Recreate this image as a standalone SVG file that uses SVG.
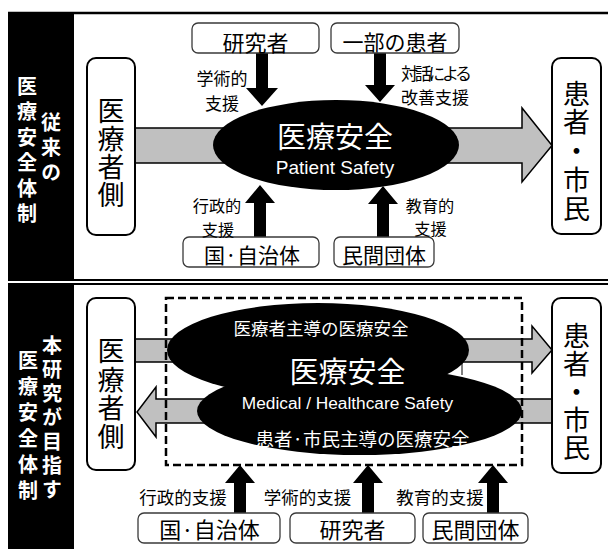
<svg xmlns="http://www.w3.org/2000/svg" width="608" height="549" viewBox="0 0 608 549">
<style>
  text { font-family: "Noto Sans CJK JP", "Noto Sans", sans-serif; }
  .lat { font-family: "Liberation Sans", Arial, sans-serif; }
  .box { fill: #fff; stroke: #3a3a3a; stroke-width: 1.3; }
  .side { fill: #fff; stroke: #000; stroke-width: 2; }
  .band { fill: #c0c0c0; stroke: #000; stroke-width: 1.5; }
  .arr { fill: #000; }
  .ell { fill: #000; }
  .wt { fill: #fff; }
  .c { text-anchor: middle; dominant-baseline: central; }
  .vert { writing-mode: vertical-rl; text-orientation: upright; }
  .bar { fill: #fff; font-size: 20px; font-weight: bold; }
  .vt { font-size: 27px; }
  .lbl { font-size: 17px; }
  .lbl3 { font-size: 16.2px; }
  .lbl2 { font-size: 17.5px; }
</style>

<g id="frame">
  <rect x="8" y="12" width="66" height="269" fill="#000"/>
  <rect x="8" y="283" width="66" height="266" fill="#000"/>
  <line x1="8" y1="13" x2="608" y2="13" stroke="#000" stroke-width="2.3"/>
  <line x1="8" y1="280" x2="608" y2="280" stroke="#000" stroke-width="2"/>
  <line x1="8" y1="284" x2="608" y2="284" stroke="#000" stroke-width="2"/>
</g>

<g id="bar-top">
  <text class="vert bar" x="27" y="76">医</text>
  <text class="vert bar" x="27" y="101.5">療</text>
  <text class="vert bar" x="27" y="127">安</text>
  <text class="vert bar" x="27" y="152.5">全</text>
  <text class="vert bar" x="27" y="178">体</text>
  <text class="vert bar" x="27" y="203.5">制</text>
  <text class="vert bar" x="51" y="112">従</text>
  <text class="vert bar" x="51" y="137">来</text>
  <text class="vert bar" x="51" y="162">の</text>
</g>

<g id="bar-bottom">
  <text class="vert bar" x="28" y="350">医</text>
  <text class="vert bar" x="28" y="376">療</text>
  <text class="vert bar" x="28" y="402">安</text>
  <text class="vert bar" x="28" y="428">全</text>
  <text class="vert bar" x="28" y="454">体</text>
  <text class="vert bar" x="28" y="480">制</text>
  <text class="vert bar" x="52" y="335">本</text>
  <text class="vert bar" x="52" y="359">研</text>
  <text class="vert bar" x="52" y="383">究</text>
  <text class="vert bar" x="52" y="407">が</text>
  <text class="vert bar" x="52" y="431">目</text>
  <text class="vert bar" x="52" y="455">指</text>
  <text class="vert bar" x="52" y="479">す</text>
</g>

<g id="connectors">
  <path class="band" d="M135 128 H522 V108 L552 145.5 L522 182 V163 H135 Z"/>
  <path class="arr" d="M256 53 H268 V88 H278 L262 106 L246 88 H256 Z"/>
  <path class="arr" d="M374 53 H386 V85 H395 L380 102 L365 85 H374 Z"/>
  <path class="arr" d="M254 237 V203 H245 L260 185 L275 203 H266 V237 Z"/>
  <path class="arr" d="M377 237 V204 H368 L383 186 L398 204 H389 V237 Z"/>
  <path class="band" d="M135 339 H532 V326 L552 350 L532 373 V362 H135 Z"/>
  <path class="band" d="M552 399 V423 H156 V437 L137 412 L156 387 V399 Z"/>
  <path class="arr" d="M234 513 V483 H225 L240 465 L255 483 H246 V513 Z"/>
  <path class="arr" d="M362 513 V483 H353 L368 465 L383 483 H374 V513 Z"/>
  <path class="arr" d="M487 513 V483 H478 L493 465 L508 483 H499 V513 Z"/>
</g>

<g id="top-left-side">
  <rect class="side" x="87" y="58" width="48" height="177" rx="9"/>
  <text class="vert vt" x="111" y="97">医</text>
  <text class="vert vt" x="111" y="125.5">療</text>
  <text class="vert vt" x="111" y="153.5">者</text>
  <text class="vert vt" x="111" y="181.5">側</text>
</g>
<g id="top-right-side">
  <rect class="side" x="552" y="58" width="49" height="176" rx="9"/>
  <text class="vert vt" x="576.5" y="80.5">患</text>
  <text class="vert vt" x="576.5" y="108.5">者</text>
  <text class="vert vt" x="576.5" y="137.5">・</text>
  <text class="vert vt" x="576.5" y="166.5">市</text>
  <text class="vert vt" x="576.5" y="195">民</text>
</g>

<g id="top-researcher">
  <rect class="box" x="192" y="23" width="127" height="30" rx="6"/>
  <text class="c" x="255.5" y="41" font-size="22">研究者</text>
</g>
<g id="top-patients">
  <rect class="box" x="331" y="23" width="128" height="30" rx="6"/>
  <text class="c" x="395" y="41" font-size="21">一部の患者</text>
</g>
<g id="top-gov">
  <rect class="box" x="183" y="237" width="136" height="30" rx="6"/>
  <text class="c" x="252" y="254" font-size="21">国·自治体</text>
</g>
<g id="top-ngo">
  <rect class="box" x="334" y="237" width="100" height="30" rx="6"/>
  <text class="c" x="384" y="254" font-size="21">民間団体</text>
</g>

<g id="top-labels">
  <text class="c lbl"><tspan x="222" y="76.5">学術的</tspan><tspan x="222" y="101.5">支援</tspan></text>
  <text class="lbl" dominant-baseline="central"><tspan x="401" y="71.5" textLength="71" lengthAdjust="spacing">対話による</tspan><tspan x="401" y="96">改善支援</tspan></text>
  <text class="c lbl3"><tspan x="217" y="205">行政的</tspan><tspan x="218" y="228.8">支援</tspan></text>
  <text class="c lbl3"><tspan x="430" y="204.5">教育的</tspan><tspan x="430.5" y="228.3">支援</tspan></text>
</g>

<g id="top-center">
  <ellipse class="ell" cx="336" cy="145" rx="123" ry="45"/>
  <text class="c wt" x="335" y="135" font-size="29">医療安全</text>
  <text class="lat wt" x="335" y="174" font-size="19" text-anchor="middle">Patient Safety</text>
</g>

<g id="bottom-left-side">
  <rect class="side" x="87" y="298" width="48" height="172" rx="9"/>
  <text class="vert vt" x="111" y="337.5">医</text>
  <text class="vert vt" x="111" y="366">療</text>
  <text class="vert vt" x="111" y="394.5">者</text>
  <text class="vert vt" x="111" y="423">側</text>
</g>
<g id="bottom-right-side">
  <rect class="side" x="552" y="298" width="49" height="175" rx="9"/>
  <text class="vert vt" x="576.5" y="322.5">患</text>
  <text class="vert vt" x="576.5" y="350.5">者</text>
  <text class="vert vt" x="576.5" y="378.5">・</text>
  <text class="vert vt" x="576.5" y="406.5">市</text>
  <text class="vert vt" x="576.5" y="434.5">民</text>
</g>

<g id="bottom-scope">
  <rect x="166" y="298" width="356" height="167" fill="none" stroke="#000" stroke-width="2.5" stroke-dasharray="8 4"/>
</g>

<g id="bottom-center">
  <ellipse class="ell" cx="318" cy="350" rx="151" ry="47"/>
  <ellipse class="ell" cx="359.5" cy="411" rx="162.5" ry="44"/>
  <line x1="462" y1="363" x2="462" y2="375" stroke="#000" stroke-width="1"/>
  <text class="c wt" x="321" y="327.5" font-size="17.5">医療者主導の医療安全</text>
  <text class="c wt" x="347.5" y="370" font-size="29">医療安全</text>
  <text class="lat wt" x="347.5" y="409" font-size="17.3" text-anchor="middle">Medical / Healthcare Safety</text>
  <text class="c wt" x="362.5" y="438" font-size="18.5">患者·市民主導の医療安全</text>
</g>

<g id="bottom-labels">
  <text class="c lbl2" x="183" y="496.5">行政的支援</text>
  <text class="c lbl2" x="307.5" y="496.5">学術的支援</text>
  <text class="c lbl2" x="440" y="496.5">教育的支援</text>
</g>

<g id="bottom-gov">
  <rect class="box" x="138" y="513" width="142" height="30" rx="6"/>
  <text class="c" x="209.5" y="528" font-size="22">国·自治体</text>
</g>
<g id="bottom-researcher">
  <rect class="box" x="290" y="513" width="125" height="30" rx="6"/>
  <text class="c" x="352.5" y="528" font-size="22">研究者</text>
</g>
<g id="bottom-ngo">
  <rect class="box" x="423" y="513" width="105" height="30" rx="6"/>
  <text class="c" x="475.5" y="528" font-size="22">民間団体</text>
</g>
</svg>
